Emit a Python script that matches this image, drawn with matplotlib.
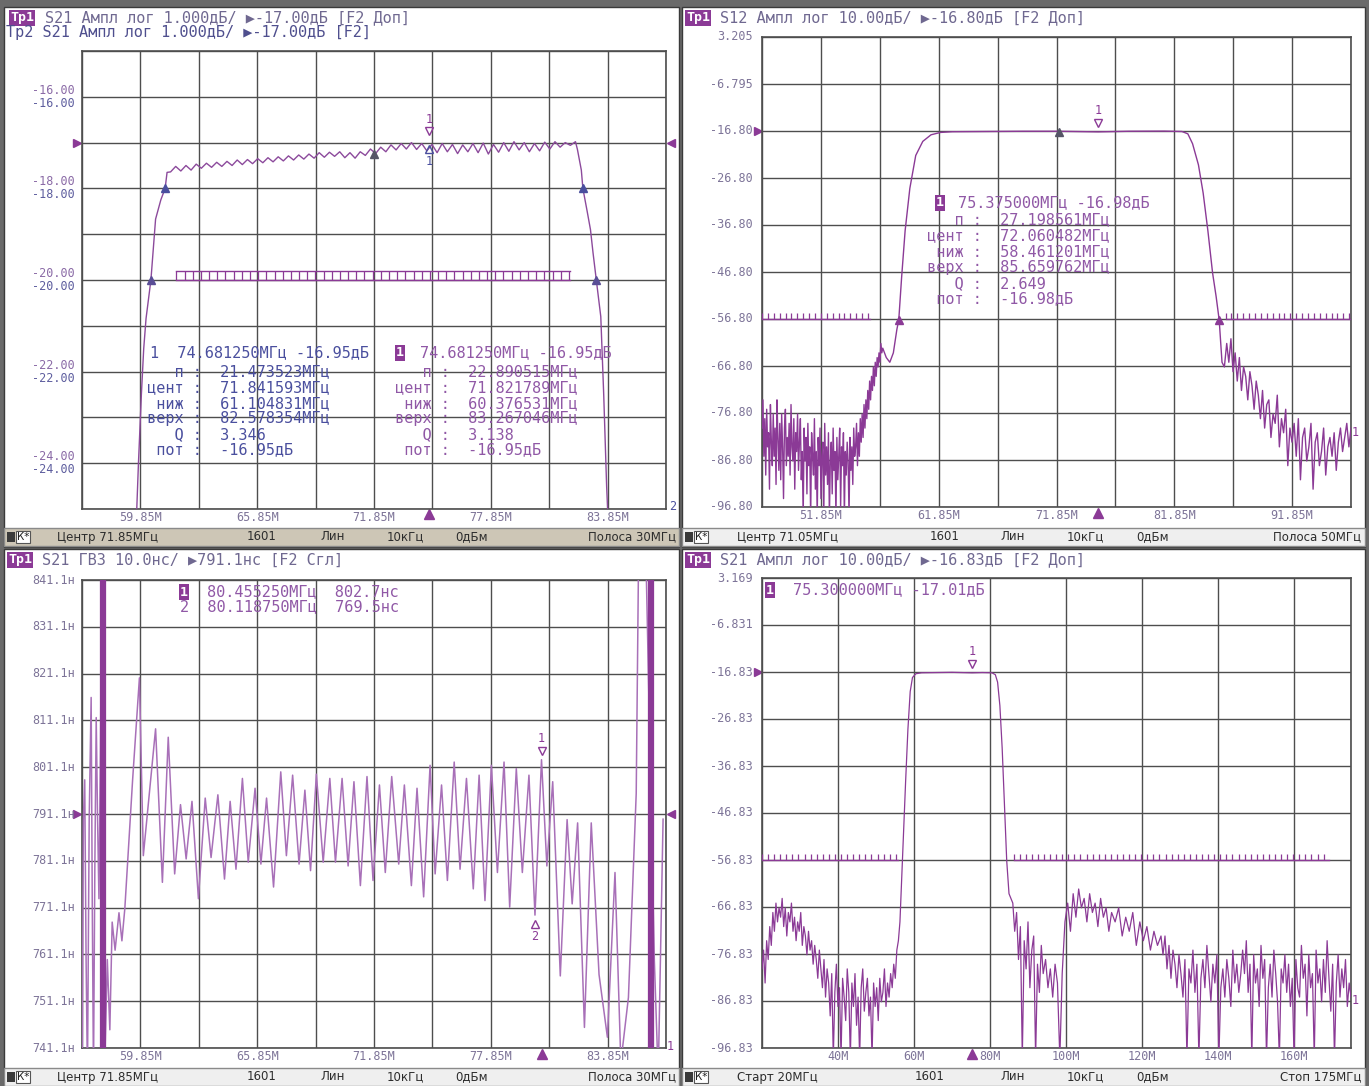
import numpy as np
import matplotlib.pyplot as plt
from matplotlib.patches import Rectangle
from matplotlib import transforms

W, H = 1369, 1086

# ---------------- data ----------------
# top-left: S21 amplitude, 1 dB/div, ref -17 dB
tl_lo_f = [59.62, 59.75, 59.90, 60.02, 60.14, 60.39, 60.63, 60.90, 61.12, 61.22]
tl_lo_db = [-25.5, -24.0, -22.5, -21.5, -20.84, -20.0, -18.67, -18.25, -18.0, -17.65]
tl_ripple_db = [-17.64, -17.52, -17.62, -17.50, -17.60, -17.47, -17.56, -17.45, -17.54, -17.43,
                -17.52, -17.41, -17.50, -17.38, -17.48, -17.37, -17.46, -17.35, -17.44, -17.33,
                -17.42, -17.31, -17.40, -17.29, -17.38, -17.27, -17.36, -17.25, -17.34, -17.22,
                -17.32, -17.21, -17.30, -17.20, -17.33, -17.22, -17.34, -17.20, -17.28, -17.14,
                -17.24, -17.10, -17.20, -17.05, -17.16, -17.02, -17.14, -17.00, -17.15, -17.02,
                -17.18, -17.04, -17.22, -17.02, -17.20, -17.04, -17.24, -17.05, -17.20, -17.02,
                -17.22, -17.01, -17.25, -17.04, -17.21, -17.00, -17.19, -16.98, -17.16, -17.00,
                -17.20, -17.02, -17.18, -16.99, -17.14, -16.98, -17.10, -17.00, -17.06, -16.98]
tl_hi_f = [82.30, 82.50, 82.58, 82.80, 82.97, 83.10, 83.27, 83.50, 83.65, 83.80, 83.90]
tl_hi_db = [-17.15, -17.6, -18.0, -18.5, -18.9, -19.4, -20.0, -20.8, -22.5, -24.5, -25.5]
tl_limit = (61.7, 81.9, -19.8)

# top-right: S12 amplitude, 10 dB/div
tr_stop_l_db = [-80, -74, -86, -78, -90, -76, -84, -81, -93, -75, -83, -88, -77, -86, -80, -92,
                -74, -82, -89, -79, -91, -77, -84, -95, -80, -76, -88, -82, -86, -79, -90, -75,
                -84, -87, -78, -93, -81, -85, -77, -89,
                -83, -78, -91, -85, -99, -80, -87, -82, -94, -79, -88, -84, -99, -81, -86, -90,
                -78, -93, -85, -99, -82, -88, -80, -95, -86, -83, -99, -79, -90, -84, -92, -81,
                -99, -87, -83, -94, -80, -89, -85, -99, -82, -91, -86, -80, -97, -84, -88, -81,
                -99, -85, -90, -83, -87, -99, -82, -89, -84, -92, -80, -86,
                -84, -79, -88, -81, -86, -78, -83, -77, -82, -75, -80, -74, -78, -72, -76, -70,
                -74, -69, -72, -67, -71, -66, -69, -65, -67, -64, -66, -62, -64, -63]
tr_pass_f = [57.4, 57.7, 58.0, 58.3, 58.46, 58.7, 59.0, 59.4, 59.9, 60.5, 61.2, 62.0, 63.0,
             66.0, 69.0, 72.0, 75.375, 78.0, 81.0, 82.5, 83.0, 83.4, 83.9, 84.3, 84.7, 85.1,
             85.4, 85.66, 85.9, 86.1]
tr_pass_db = [-65, -66, -64, -59, -57, -48, -38, -29, -22, -19, -17.6, -17.1, -16.95,
              -16.9, -16.85, -16.85, -16.98, -16.85, -16.82, -16.9, -17.4, -19.5, -24, -30,
              -38, -47, -52, -57, -66, -67]
tr_stop_r_db = [-62, -66, -61, -68, -64, -70, -65, -72, -67, -69, -74, -68, -71, -76, -70, -73,
                -78, -72, -80, -75, -74, -82, -77, -79, -73, -84, -78, -81, -76, -88, -80, -83,
                -79, -86, -78, -91, -82, -80, -87, -84, -79, -93, -83, -81, -88, -85, -80, -90,
                -84, -82, -86, -81, -89, -83, -80, -85, -82, -79, -84, -80]
tr_limits = [(46.85, 56.0, -56.8), (86.2, 96.85, -56.8)]

# bottom-left: group delay, ns
bl_f = [56.86, 56.92, 56.99, 57.06, 57.13, 57.22, 57.32, 57.38, 57.44, 57.51, 57.58, 57.65,
        57.72, 57.80, 57.87, 58.02, 58.15, 58.28, 58.40, 58.55, 58.75, 58.90, 59.05, 59.45,
        59.80, 60.00, 60.63, 60.98, 61.28, 61.61, 61.91, 62.20, 62.50, 62.83, 63.18, 63.48,
        63.83, 64.17, 64.46, 64.76, 65.09, 65.39, 65.74, 66.04, 66.33, 66.69, 67.06, 67.35,
        67.67, 68.00, 68.30, 68.59, 68.89, 69.24, 69.58, 69.87, 70.21, 70.52, 70.82, 71.15,
        71.49, 71.80, 72.13, 72.43, 72.76, 73.12, 73.41, 73.77, 74.06, 74.40, 74.73, 74.99,
        75.32, 75.62, 75.97, 76.27, 76.60, 76.95, 77.25, 77.55, 77.88, 78.19, 78.53, 78.82,
        79.16, 79.47, 79.81, 80.119, 80.455, 80.73, 81.03, 81.42, 81.77, 82.03, 82.31, 82.66,
        83.01, 83.41, 83.84, 84.23, 84.53, 84.92, 85.32, 85.45, 85.80, 86.25, 86.45, 86.70]
bl_ns = [735, 790, 798.4, 760, 735, 790, 816, 770, 735, 780, 811.7, 790,
         773, 805, 850, 738, 760, 745, 768, 762, 770, 764, 770.9, 798.4,
         820.2, 782.2, 809.3, 776.5, 807.5, 778.3, 793.1, 781.5, 793.8, 773.0, 794.5, 781.8,
         795.2, 777.2, 793.8, 779.3, 798.7, 780.8, 796.6, 780.4, 794.5, 775.5, 800.1, 782.2,
         799.4, 780.4, 796.2, 779.0, 799.6, 780.8, 798.7, 780.8, 798.7, 780.0, 798.0, 775.8,
         799.1, 776.9, 797.3, 778.6, 799.1, 780.4, 797.3, 775.8, 796.6, 773.4, 801.5, 778.3,
         797.3, 776.9, 802.2, 779.3, 798.7, 775.1, 799.4, 772.6, 801.5, 778.6, 802.2, 771.2,
         800.8, 778.6, 799.4, 769.5, 802.7, 780.0, 798.0, 756.5, 789.9, 771.9, 789.2, 745.5,
         789.2, 756.8, 743.4, 778.6, 738.0, 751.9, 795.5, 850.0, 850.0, 760.0, 735.0, 790.0]
bl_bars_f = [57.95, 86.08]

# bottom-right: S21 wide span, 10 dB/div
br_stop_l_db = [-80, -76, -83, -74, -78, -71, -75, -68, -72, -66, -70, -67, -69, -65, -71, -67,
                -73, -68, -70, -66, -72, -69, -74, -70, -72, -68, -75, -71, -73, -77, -72, -76,
                -74, -79, -75, -78, -82, -76, -80, -84, -78, -86, -80, -83, -90, -81, -99, -85,
                -79, -88, -84, -99, -82, -86, -91, -80, -85, -99, -83, -88, -81, -92, -86, -99,
                -84, -80, -89, -85, -82, -90, -86, -99, -83, -88, -84, -91, -82, -87, -85, -80,
                -88, -83, -86, -81, -84, -79, -82, -76, -74, -70]
br_pass_f = [56.6, 57.2, 57.8, 58.4, 59.0, 59.6, 60.5, 62.0, 66.0, 70.0, 75.3, 78.0, 80.5,
             81.4, 82.0, 82.6, 83.2, 83.8, 84.4, 85.0]
br_pass_db = [-64, -52, -40, -29, -21, -18, -17.2, -17.0, -16.95, -16.9, -17.01, -16.95, -17.0,
              -17.4, -19, -24, -33, -45, -57, -64]
br_stop_r1_db = [-66, -72, -68, -78, -71, -99, -74, -80, -70, -84, -76, -73, -99, -79, -85, -75, -81]
br_stop_r2_db = [-78, -84, -80, -86, -79, -83, -99, -81]
br_stop_r3_db = [-70, -66, -72, -64, -69, -63, -67, -65, -70, -64, -68, -66, -71, -65, -69, -67,
                 -72, -68]
br_stop_r4_db = [-70, -67, -73, -69, -72, -68, -75, -70, -74, -71, -76, -72, -75, -73]
br_stop_r5_db = [-77, -73, -80, -75, -82, -76, -79, -84, -77, -81, -86, -78, -99, -80, -83, -76,
                 -85, -79, -99, -82, -78, -84, -75, -81, -87, -79, -83, -77, -99, -84, -80, -86,
                 -78, -82, -88, -76, -83, -79, -85, -81]
br_stop_r6_db = [-76, -81, -74, -85, -79, -99, -77, -83, -80, -88, -75, -82, -78, -99, -84, -79,
                 -86, -76, -81, -87, -99, -80, -83, -77, -85, -79, -88, -82, -99, -78, -84, -86,
                 -75, -82, -79, -90, -77, -84, -81, -99, -76, -83, -80, -87, -78, -85, -74, -82,
                 -89, -79, -99, -83, -77, -86, -80, -84, -78, -88, -83, -86]
br_stop_r_spans = [(85.5, 94.0), (94.0, 99.0), (99.0, 112.0), (112.0, 125.0), (125.0, 146.0),
                   (146.0, 175.0)]
br_limits = [(20.0, 55.8, -56.83), (86.2, 169.3, -56.83)]

# ---------------- styling ----------------
MONO = ['DejaVu Sans Mono', 'DejaVu Sans']
SANS = ['DejaVu Sans']
PURPLE = '#8b3a96'
LILAC = '#a870b8'
BLUE = '#4a4f9e'
GRID = '#4e4e4e'
LABEL = '#7d7498'
HEAD = '#6f6890'
TXT = 11

fig = plt.figure(figsize=(W / 100, H / 100), dpi=100)
fig.patch.set_facecolor('#6a6a6a')


def rect(x0, y0, x1, y1, fc, ec='#3a3a3a', lw=1.0, z=-1):
    fig.patches.append(Rectangle((x0 / W, 1 - y1 / H), (x1 - x0) / W, (y1 - y0) / H,
                                 transform=fig.transFigure, facecolor=fc, edgecolor=ec,
                                 lw=lw, zorder=z))


def ftext(x, y, s, **kw):
    kw.setdefault('family', MONO)
    kw.setdefault('va', 'center')
    return fig.text(x / W, 1 - y / H, s, **kw)


def tag(x, y, s, fc=PURPLE, size=9.5):
    ftext(x, y, s, color='white', fontsize=size, fontweight='bold',
          bbox=dict(boxstyle='square,pad=0.08', fc=fc, ec='none'))


def pax(x0, y0, x1, y1):
    return fig.add_axes([x0 / W, 1 - y1 / H, (x1 - x0) / W, (y1 - y0) / H])


def setup(ax, xlim, ylim, xgrid, ygrid):
    ax.set_xlim(xlim)
    ax.set_ylim(ylim)
    ax.set_xticks([])
    ax.set_yticks([])
    ax.patch.set_alpha(0)
    for v in xgrid:
        ax.axvline(v, color=GRID, lw=1.0, zorder=1)
    for v in ygrid:
        ax.axhline(v, color=GRID, lw=1.0, zorder=1)
    for s in ax.spines.values():
        s.set_color(GRID)
        s.set_linewidth(1.2)


def ylabels(ax, vals, labels, dx=-0.012, va='center', color=LABEL, size=8.5):
    tr = transforms.blended_transform_factory(ax.transAxes, ax.transData)
    for v, s in zip(vals, labels):
        ax.text(dx, v, s, transform=tr, ha='right', va=va, fontsize=size,
                family=MONO, color=color, clip_on=False)


def xlabels(ax, vals, labels, dy=-0.018):
    for v, s in zip(vals, labels):
        ax.text(v, dy, s, transform=ax.get_xaxis_transform(), ha='center', va='center',
                fontsize=8.5, family=MONO, color=LABEL, clip_on=False)


def comb(ax, f0, f1, level, step, h, color=PURPLE):
    ax.plot([f0, f1], [level, level], color=color, lw=1.0, zorder=3)
    teeth = np.arange(f0, f1 + 1e-9, step)
    ax.vlines(teeth, level, level + h, color=color, lw=0.9, zorder=3)


def ref_arrows(ax, level, left=True, right=True, dx=0.009):
    tr = transforms.blended_transform_factory(ax.transAxes, ax.transData)
    if left:
        ax.plot(-dx, level, marker='>', ms=6, color=PURPLE, transform=tr, clip_on=False)
    if right:
        ax.plot(1 + dx, level, marker='<', ms=6, color=PURPLE, transform=tr, clip_on=False)


def stim(ax, f, color=PURPLE, ms=7):
    ax.plot(f, -0.012, marker='^', ms=ms, color=color, transform=ax.get_xaxis_transform(),
            clip_on=False)


def marker_flag(ax, f, v, label, color=PURPLE, up=True, dist=8):
    sgn = 1 if up else -1
    tr = transforms.offset_copy(ax.transData, fig=fig, x=0, y=sgn * dist, units='dots')
    ax.plot(f, v, marker='v' if up else '^', ms=6, mfc='none', mec=color, mew=1.0,
            transform=tr, zorder=5)
    tr2 = transforms.offset_copy(ax.transData, fig=fig, x=0, y=sgn * (dist + 12), units='dots')
    ax.text(f, v, label, transform=tr2, ha='center', va='center', fontsize=8.5,
            family=MONO, color=color, zorder=5)


def status(x0, x1, y0, y1, items, fc):
    rect(x0, y0, x1, y1, fc, ec='#8a8a8a', z=-0.5)
    yc = (y0 + y1) / 2
    rect(x0 + 3, y0 + 4, x0 + 11, y1 - 4, '#3a3a3a', ec='none', z=-0.4)
    ftext(x0 + 13, yc, 'К*', family=SANS, fontsize=7.5, color='#222222',
          bbox=dict(boxstyle='square,pad=0.1', fc='white', ec='#555555', lw=0.8))
    for x, s, ha in items:
        ftext(x, yc, s, family=SANS, fontsize=8.5, color='#2c2c2c', ha=ha)


# ---------------- panel frames ----------------
rect(4, 7, 679, 547, 'white')
rect(682, 7, 1365, 547, 'white')
rect(4, 549, 679, 1086, 'white')
rect(682, 549, 1365, 1086, 'white')

# ================= top-left =================
ax = pax(82, 51, 666, 509)
setup(ax, (56.85, 86.85), (-25, -15), np.linspace(56.85, 86.85, 11), np.arange(-25, -14, 1))
tl_f = np.concatenate([tl_lo_f, np.linspace(61.4, 82.2, len(tl_ripple_db)), tl_hi_f])
tl_db = np.concatenate([tl_lo_db, tl_ripple_db, tl_hi_db])
ax.plot(tl_f, tl_db, color='#8c4a9c', lw=1.0, zorder=4)
f0, f1, lev = tl_limit
comb(ax, f0, f1, lev, 0.42, -0.2)
ax.plot([f0, f1], [lev - 0.2, lev - 0.2], color=PURPLE, lw=1.0, zorder=3)
ax.plot([61.105, 82.578], [-18, -18], '^', ms=6, color=BLUE, zorder=5)
ax.plot([60.377, 83.267], [-20, -20], '^', ms=6, color='#5a4e96', zorder=5)
ax.plot([71.84], [-17.24], '^', ms=6, color='#555566', zorder=5)
marker_flag(ax, 74.68, -16.95, '1', PURPLE, up=True, dist=9)
marker_flag(ax, 74.68, -16.95, '1', BLUE, up=False, dist=9)
ref_arrows(ax, -17)
stim(ax, 74.68)
tl_yv = [-16, -18, -20, -22, -24]
ylabels(ax, tl_yv, ['%.2f' % v for v in tl_yv], va='bottom', color='#8a6aa6')
ylabels(ax, tl_yv, ['%.2f' % v for v in tl_yv], va='top', color='#5d5d9e')
tl_xv = [59.85, 65.85, 71.85, 77.85, 83.85]
xlabels(ax, tl_xv, ['%.2fМ' % v for v in tl_xv])
ftext(669, 507, '2', fontsize=8.5, color=BLUE)

tag(10, 18, 'Тр1')
ftext(45, 18, 'S21 Ампл лог 1.000дБ/ ▶-17.00дБ [F2 Доп]', fontsize=TXT, color=HEAD)
ftext(6, 33, 'Тр2 S21 Ампл лог 1.000дБ/ ▶-17.00дБ [F2]', fontsize=TXT, color='#4f4f8e')

blk1 = ['    п :  21.473523МГц', ' цент :  71.841593МГц', '  ниж :  61.104831МГц',
        ' верх :  82.578354МГц', '    Q :  3.346', '  пот :  -16.95дБ']
blk2 = ['    п :  22.890515МГц', ' цент :  71.821789МГц', '  ниж :  60.376531МГц',
        ' верх :  83.267046МГц', '    Q :  3.138', '  пот :  -16.95дБ']
ftext(150, 353, '1  74.681250МГц -16.95дБ', fontsize=TXT, color=BLUE)
tag(396, 353, '1')
ftext(420, 353, '74.681250МГц -16.95дБ', fontsize=TXT, color='#9058a6')
for i, (a, b) in enumerate(zip(blk1, blk2)):
    ftext(138, 372 + i * 15.6, a, fontsize=TXT, color=BLUE)
    ftext(386, 372 + i * 15.6, b, fontsize=TXT, color='#9058a6')

status(4, 679, 528, 546,
       [(57, 'Центр 71.85МГц', 'left'), (262, '1601', 'center'), (333, 'Лин', 'center'),
        (405, '10кГц', 'center'), (472, '0дБм', 'center'), (676, 'Полоса 30МГц', 'right')],
       '#cdc6b6')

# ================= top-right =================
ax = pax(762, 37, 1351, 507)
yl = (-96.795, 3.205)
setup(ax, (46.85, 96.85), yl, np.linspace(46.85, 96.85, 11), np.linspace(yl[0], yl[1], 11))
tr_f = np.concatenate([np.linspace(46.85, 57.1, len(tr_stop_l_db)), tr_pass_f,
                       np.linspace(86.3, 96.85, len(tr_stop_r_db))])
tr_db = np.concatenate([tr_stop_l_db, tr_pass_db, tr_stop_r_db])
ax.plot(tr_f, tr_db, color=PURPLE, lw=1.0, zorder=4)
for f0, f1, lev in tr_limits:
    comb(ax, f0, f1, lev, 0.5, 1.3)
ax.plot([58.461, 85.66], [-56.98, -56.98], '^', ms=6, color=PURPLE, zorder=5)
ax.plot([72.06], [-16.98], '^', ms=6, color='#555566', zorder=5)
marker_flag(ax, 75.375, -16.98, '1', PURPLE, up=True, dist=9)
ref_arrows(ax, -16.80, right=False, dx=0.006)
stim(ax, 75.375)
tr_yv = np.linspace(yl[1], yl[0], 11)
ylabels(ax, tr_yv, ['3.205', '-6.795'] + ['%.2f' % v for v in tr_yv[2:]], dx=-0.016)
tr_xv = [51.85, 61.85, 71.85, 81.85, 91.85]
xlabels(ax, tr_xv, ['%.2fМ' % v for v in tr_xv])
ftext(1352, 432, '1', fontsize=8.5, color=PURPLE)

tag(686, 18, 'Тр1')
ftext(720, 18, 'S12 Ампл лог 10.00дБ/ ▶-16.80дБ [F2 Доп]', fontsize=TXT, color=HEAD)
tag(936, 203, '1')
ftext(958, 203, '75.375000МГц -16.98дБ', fontsize=TXT, color='#9058a6')
blk3 = ['    п :  27.198561МГц', ' цент :  72.060482МГц', '  ниж :  58.461201МГц',
        ' верх :  85.659762МГц', '    Q :  2.649', '  пот :  -16.98дБ']
for i, s in enumerate(blk3):
    ftext(918, 220 + i * 15.8, s, fontsize=TXT, color='#9058a6')

status(682, 1365, 528, 546,
       [(737, 'Центр 71.05МГц', 'left'), (945, '1601', 'center'), (1013, 'Лин', 'center'),
        (1085, '10кГц', 'center'), (1153, '0дБм', 'center'), (1361, 'Полоса 50МГц', 'right')],
       '#efefef')

# ================= bottom-left =================
ax = pax(82, 580, 666, 1048)
setup(ax, (56.85, 86.85), (741.1, 841.1), np.linspace(56.85, 86.85, 11),
      np.linspace(741.1, 841.1, 11))
ax.plot(bl_f, bl_ns, color=LILAC, lw=1.1, zorder=4)
for f in bl_bars_f:
    ax.axvline(f, color=PURPLE, lw=4.5, zorder=4)
marker_flag(ax, 80.455, 802.7, '1', PURPLE, up=True, dist=9)
marker_flag(ax, 80.119, 769.5, '2', PURPLE, up=False, dist=9)
ref_arrows(ax, 791.1)
stim(ax, 80.455)
bl_yv = np.linspace(841.1, 741.1, 11)
ylabels(ax, bl_yv, ['%.1fн' % v for v in bl_yv], dx=-0.012)
xlabels(ax, tl_xv, ['%.2fМ' % v for v in tl_xv])
ftext(667, 1046, '1', fontsize=8.5, color=PURPLE)

tag(8, 560, 'Тр1')
ftext(42, 560, 'S21 ГВЗ 10.0нс/ ▶791.1нс [F2 Сгл]', fontsize=TXT, color=HEAD)
tag(180, 592, '1')
ftext(207, 592, '80.455250МГц  802.7нс', fontsize=TXT, color='#9058a6')
ftext(180, 607, '2  80.118750МГц  769.5нс', fontsize=TXT, color='#9058a6')

status(4, 679, 1068, 1086,
       [(57, 'Центр 71.85МГц', 'left'), (262, '1601', 'center'), (333, 'Лин', 'center'),
        (405, '10кГц', 'center'), (472, '0дБм', 'center'), (676, 'Полоса 30МГц', 'right')],
       '#efefef')

# ================= bottom-right =================
ax = pax(762, 578, 1351, 1048)
yl = (-96.831, 3.169)
setup(ax, (20, 175), yl, [20, 40, 60, 80, 100, 120, 140, 160, 175], np.linspace(yl[0], yl[1], 11))
br_f = [np.linspace(20, 56.3, len(br_stop_l_db)), br_pass_f]
br_db = [br_stop_l_db, br_pass_db]
for (a, b), vals in zip(br_stop_r_spans, [br_stop_r1_db, br_stop_r2_db, br_stop_r3_db,
                                          br_stop_r4_db, br_stop_r5_db, br_stop_r6_db]):
    br_f.append(np.linspace(a, b, len(vals) + 1)[1:])
    br_db.append(vals)
ax.plot(np.concatenate(br_f), np.concatenate(br_db), color=PURPLE, lw=0.9, zorder=4)
for f0, f1, lev in br_limits:
    comb(ax, f0, f1, lev, 1.6, 1.3)
marker_flag(ax, 75.3, -17.01, '1', PURPLE, up=True, dist=9)
ref_arrows(ax, -16.83, right=False, dx=0.006)
stim(ax, 75.3)
br_yv = np.linspace(yl[1], yl[0], 11)
ylabels(ax, br_yv, ['3.169', '-6.831'] + ['%.2f' % v for v in br_yv[2:]], dx=-0.016)
br_xv = [40, 60, 80, 100, 120, 140, 160]
xlabels(ax, br_xv, ['%dМ' % v for v in br_xv])
ftext(1352, 1000, '1', fontsize=8.5, color=PURPLE)

tag(686, 560, 'Тр1')
ftext(720, 560, 'S21 Ампл лог 10.00дБ/ ▶-16.83дБ [F2 Доп]', fontsize=TXT, color=HEAD)
tag(766, 590, '1')
ftext(793, 590, '75.300000МГц -17.01дБ', fontsize=TXT, color='#9058a6')

status(682, 1365, 1068, 1086,
       [(737, 'Старт 20МГц', 'left'), (930, '1601', 'center'), (1013, 'Лин', 'center'),
        (1085, '10кГц', 'center'), (1153, '0дБм', 'center'), (1361, 'Стоп 175МГц', 'right')],
       '#efefef')

fig.savefig('out.png', dpi=100, facecolor=fig.get_facecolor())
